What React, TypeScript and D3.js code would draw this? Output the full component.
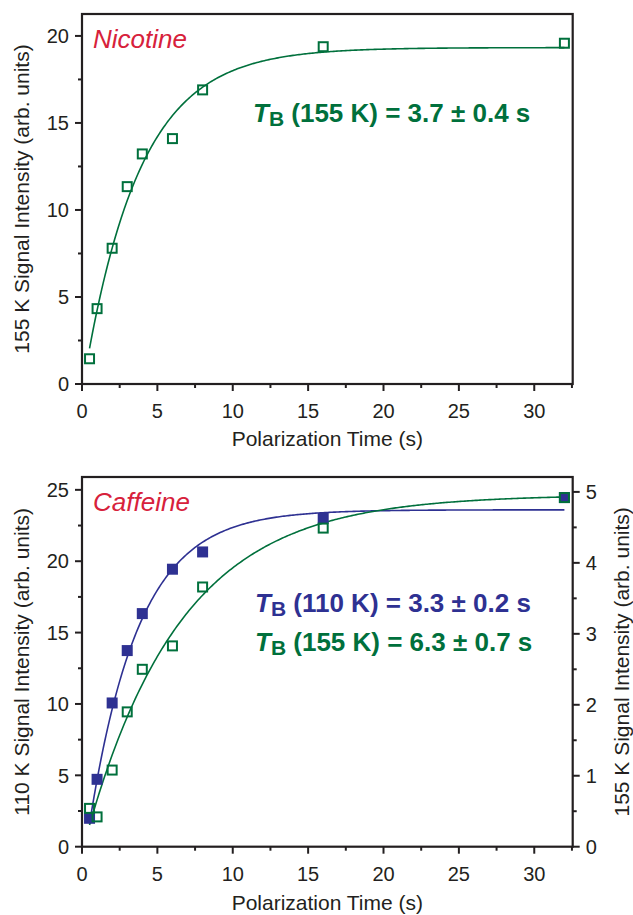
import React from "react";
import * as d3 from "d3";

// polarization times (s)
const times = [0.5, 1, 2, 3, 4, 6, 8, 16, 32];
// Nicotine, 155 K signal
const nicotine155 = [1.45, 4.33, 7.8, 11.34, 13.22, 14.1, 16.9, 19.38, 19.58];
// Caffeine, 110 K signal (left axis) and 155 K signal (right axis)
const caffeine110 = [1.99, 4.72, 10.07, 13.74, 16.33, 19.44, 20.65, 23.0, 24.46];
const caffeine155 = [0.54, 0.42, 1.08, 1.9, 2.5, 2.83, 3.66, 4.49, 4.92];

// fit parameters: [plateau, amplitude, T_B]
const fitNic155 = [19.33, 19.78, 3.7];
const fitCaf110 = [23.6, 25.6, 3.3];
const fitCaf155 = [4.96, 5.04, 6.3];

const xTicks = [0, 5, 10, 15, 20, 25, 30];
const yTicksTop = [0, 5, 10, 15, 20];
const yTicksBottom = [0, 5, 10, 15, 20, 25];
const yTicksRight = [0, 1, 2, 3, 4, 5];

const GREEN = "#00703c";
const BLUE = "#2e3192";
const RED = "#d7213b";
const INK = "#231f20";
const FONT = "'Liberation Sans', Arial, sans-serif";

const left = 82;
const right = 572.7;

const fitLine = (p: number[], x: any, y: any) => {
  const ts = d3.range(0.5, 32.01, 0.1);
  return d3
    .line<number>()
    .x((t) => x(t))
    .y((t) => y(p[0] - p[1] * Math.exp(-t / p[2])))(ts) as string;
};

const XAxis = ({ x, y0 }: any) => {
  const minors = d3.range(2.5, 32.6, 5);
  return (
    <g>
      {xTicks.map((t) => (
        <g key={t}>
          <line x1={x(t)} x2={x(t)} y1={y0} y2={y0 + 7} stroke={INK} strokeWidth={2} />
          <text x={x(t)} y={y0 + 34} textAnchor="middle" fontSize={20} fill={INK}>
            {t}
          </text>
        </g>
      ))}
      {minors.map((t) => (
        <line key={t} x1={x(t)} x2={x(t)} y1={y0} y2={y0 + 4} stroke={INK} strokeWidth={2} />
      ))}
    </g>
  );
};

const YAxis = ({ y, ticks, step, x0, side }: any) => {
  const dir = side === "left" ? -1 : 1;
  const max = y.domain()[1];
  const minors = d3.range(step / 2, max, step);
  return (
    <g>
      {ticks.map((t: number) => (
        <g key={t}>
          <line x1={x0} x2={x0 + dir * 7} y1={y(t)} y2={y(t)} stroke={INK} strokeWidth={2} />
          <text
            x={x0 + dir * 13}
            y={y(t)}
            dy="0.36em"
            textAnchor={side === "left" ? "end" : "start"}
            fontSize={20}
            fill={INK}
          >
            {t}
          </text>
        </g>
      ))}
      {minors.map((t: number) => (
        <line key={t} x1={x0} x2={x0 + dir * 4} y1={y(t)} y2={y(t)} stroke={INK} strokeWidth={2} />
      ))}
    </g>
  );
};

const TB = ({ x, y, color, temp, value }: any) => (
  <text x={x} y={y} fill={color} fontSize={26} fontWeight="bold">
    <tspan fontStyle="italic">T</tspan>
    <tspan fontSize={21} dy={4}>B</tspan>
    <tspan dy={-4}>{` (${temp}) = ${value} s`}</tspan>
  </text>
);

const OpenSquares = ({ xs, ys, x, y, color }: any) => (
  <g>
    {xs.map((t: number, i: number) => (
      <rect
        key={t}
        x={x(t) - 4.5}
        y={y(ys[i]) - 4.5}
        width={9}
        height={9}
        fill="none"
        stroke={color}
        strokeWidth={2}
      />
    ))}
  </g>
);

const FilledSquares = ({ xs, ys, x, y, color }: any) => (
  <g>
    {xs.map((t: number, i: number) => (
      <rect key={t} x={x(t) - 5.5} y={y(ys[i]) - 5.5} width={11} height={11} fill={color} />
    ))}
  </g>
);

export default function App() {
  const x = d3.scaleLinear().domain([0, 32.55]).range([left, right]);

  // top panel
  const topY0 = 384;
  const topY1 = 14;
  const yTop = d3.scaleLinear().domain([0, 21.26]).range([topY0, topY1]);

  // bottom panel
  const botY0 = 846.7;
  const botY1 = 477;
  const yBot = d3.scaleLinear().domain([0, 25.9]).range([botY0, botY1]);
  const yRight = d3.scaleLinear().domain([0, 5.21]).range([botY0, botY1]);

  return (
    <svg
      width={633}
      height={915}
      style={{ position: "absolute", left: 0, top: 0, background: "#fff" }}
      fontFamily={FONT}
    >
      {/* Nicotine */}
      <path d={fitLine(fitNic155, x, yTop)} fill="none" stroke={GREEN} strokeWidth={1.6} />
      <OpenSquares xs={times} ys={nicotine155} x={x} y={yTop} color={GREEN} />
      <rect
        x={left}
        y={topY1}
        width={right - left}
        height={topY0 - topY1}
        fill="none"
        stroke={INK}
        strokeWidth={2.2}
      />
      <XAxis x={x} y0={topY0} />
      <YAxis y={yTop} ticks={yTicksTop} step={5} x0={left} side="left" />
      <text x={93} y={48} fill={RED} fontSize={26} fontStyle="italic">
        Nicotine
      </text>
      <TB x={253} y={122} color={GREEN} temp="155 K" value="3.7 ± 0.4" />
      <text x={(left + right) / 2} y={446} textAnchor="middle" fontSize={21} fill={INK}>
        Polarization Time (s)
      </text>
      <text
        transform={`translate(29,${(topY0 + topY1) / 2}) rotate(-90)`}
        textAnchor="middle"
        fontSize={21}
        fill={INK}
      >
        155 K Signal Intensity (arb. units)
      </text>

      {/* Caffeine */}
      <path d={fitLine(fitCaf110, x, yBot)} fill="none" stroke={BLUE} strokeWidth={1.6} />
      <path d={fitLine(fitCaf155, x, yRight)} fill="none" stroke={GREEN} strokeWidth={1.6} />
      <FilledSquares xs={times} ys={caffeine110} x={x} y={yBot} color={BLUE} />
      <OpenSquares xs={times} ys={caffeine155} x={x} y={yRight} color={GREEN} />
      <rect
        x={left}
        y={botY1}
        width={right - left}
        height={botY0 - botY1}
        fill="none"
        stroke={INK}
        strokeWidth={2.2}
      />
      <XAxis x={x} y0={botY0} />
      <YAxis y={yBot} ticks={yTicksBottom} step={5} x0={left} side="left" />
      <YAxis y={yRight} ticks={yTicksRight} step={1} x0={right} side="right" />
      <text x={93} y={511} fill={RED} fontSize={26} fontStyle="italic">
        Caffeine
      </text>
      <TB x={255} y={612} color={BLUE} temp="110 K" value="3.3 ± 0.2" />
      <TB x={255} y={651} color={GREEN} temp="155 K" value="6.3 ± 0.7" />
      <text x={(left + right) / 2} y={910} textAnchor="middle" fontSize={21} fill={INK}>
        Polarization Time (s)
      </text>
      <text
        transform={`translate(29,${(botY0 + botY1) / 2}) rotate(-90)`}
        textAnchor="middle"
        fontSize={21}
        fill={INK}
      >
        110 K Signal Intensity (arb. units)
      </text>
      <text
        transform={`translate(629,${(botY0 + botY1) / 2}) rotate(-90)`}
        textAnchor="middle"
        fontSize={21}
        fill={INK}
      >
        155 K Signal Intensity (arb. units)
      </text>
    </svg>
  );
}
